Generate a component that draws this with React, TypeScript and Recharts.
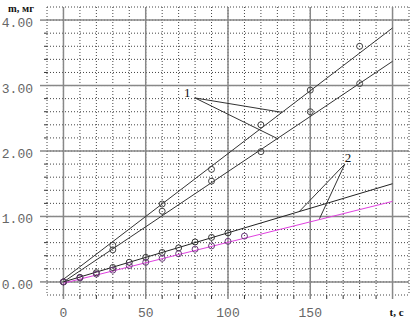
import React from 'react';
import {
  ComposedChart, Line, Scatter, XAxis, YAxis, CartesianGrid, ReferenceLine, ReferenceDot,
} from 'recharts';

// ---- data ----
const line1aPoints = [
  { t: 30, m: 0.56 }, { t: 60, m: 1.19 }, { t: 90, m: 1.72 },
  { t: 120, m: 2.4 }, { t: 150, m: 2.93 }, { t: 180, m: 3.6 },
];
const line1bPoints = [
  { t: 0, m: 0.0 }, { t: 30, m: 0.49 }, { t: 60, m: 1.08 }, { t: 90, m: 1.54 },
  { t: 120, m: 1.99 }, { t: 150, m: 2.6 }, { t: 180, m: 3.03 },
];
const line2Points = [
  { t: 0, m: 0 }, { t: 10, m: 0.07 }, { t: 20, m: 0.14 }, { t: 30, m: 0.22 },
  { t: 40, m: 0.3 }, { t: 50, m: 0.375 }, { t: 60, m: 0.45 }, { t: 70, m: 0.52 },
  { t: 80, m: 0.61 }, { t: 90, m: 0.68 }, { t: 100, m: 0.75 },
];
const line2mPoints = [
  { t: 0, m: 0 }, { t: 10, m: 0.06 }, { t: 20, m: 0.12 }, { t: 30, m: 0.18 },
  { t: 40, m: 0.25 }, { t: 50, m: 0.3 }, { t: 60, m: 0.36 }, { t: 70, m: 0.43 },
  { t: 80, m: 0.5 }, { t: 90, m: 0.55 }, { t: 100, m: 0.62 }, { t: 110, m: 0.7 },
];
const fit1a = [{ t: 0, m: 0.04 }, { t: 200, m: 3.88 }];
const fit1b = [{ t: 0, m: 0.0 }, { t: 200, m: 3.37 }];
const fit2 = [{ t: 0, m: 0.0 }, { t: 200, m: 1.5 }];
const fit2m = [{ t: 0, m: -0.02 }, { t: 200, m: 1.23 }];

const xTicks = [-10, 0, 10, 20, 30, 40, 50, 60, 70, 80, 90, 100, 110, 120, 130, 140, 150, 160, 170, 180, 190, 200, 210];
const yTicks = [-0.2, 0, 0.2, 0.4, 0.6, 0.8, 1, 1.2, 1.4, 1.6, 1.8, 2, 2.2, 2.4, 2.6, 2.8, 3, 3.2, 3.4, 3.6, 3.8, 4, 4.2];
const xMajor = [0, 50, 100, 150, 200];
const yMajor = [0, 1, 2, 3, 4];
const xLabels: Record<number, string> = { 0: '0', 50: '50', 100: '100', 150: '150', 200: 't, c' };
const yLabels: Record<number, string> = { 0: '0.00', 1: '1.00', 2: '2.00', 3: '3.00', 4: '4.00' };

const tickFont = '"Liberation Mono", monospace';
const serif = '"Liberation Serif", "DejaVu Serif", serif';

const isMajor = (v: number, arr: number[]) => arr.some((a) => Math.abs(a - v) < 1e-6);

const YTick = (props: any) => {
  const { x, y, payload } = props;
  const v = payload.value;
  const major = isMajor(v, yMajor);
  const edge = v < -0.1 || v > 4.1;
  return (
    <g>
      {!edge && (
        <line x1={x - (major ? 7 : 3)} x2={x} y1={y} y2={y} stroke={major ? '#888' : '#333'} strokeWidth={major ? 1.5 : 1} />
      )}
      {major && (
        <text x={33} y={y} dy={7} textAnchor="end" fontFamily={tickFont} fontSize={13} fill="#666">
          {yLabels[Math.round(v)]}
        </text>
      )}
    </g>
  );
};

const XTick = (props: any) => {
  const { x, y, payload } = props;
  const v = payload.value;
  const major = isMajor(v, xMajor);
  const edge = v < -5 || v > 205;
  const lbl = xLabels[Math.round(v)];
  return (
    <g>
      {!edge && <line x1={x} x2={x} y1={y} y2={y + 4} stroke={major ? '#888' : '#333'} strokeWidth={major ? 1.5 : 1} />}
      {major && lbl && (
        v === 200 ? (
          <text x={x + 4} y={y + 21} textAnchor="middle" fontFamily={serif} fontWeight="bold" fontSize={11} fill="#111">{lbl}</text>
        ) : (
          <text x={x} y={y + 22} textAnchor="middle" fontFamily={tickFont} fontSize={13} fill="#666">{lbl}</text>
        )
      )}
    </g>
  );
};

const circle = (stroke: string) => (p: any) => (
  <circle cx={p.cx} cy={p.cy} r={3} fill="none" stroke={stroke} strokeWidth={1} />
);

export default function App() {
  return (
    <div style={{ position: 'absolute', left: 0, top: 0, background: '#fff' }}>
      <ComposedChart width={420} height={330} margin={{ top: 7, right: 11, left: 0, bottom: 0 }}>
        <CartesianGrid stroke="#444" strokeDasharray="1 2" />
        <XAxis
          type="number" dataKey="t" domain={[-10, 210]} ticks={xTicks} interval={0}
          axisLine={false} tickLine={false} tickSize={0} tickMargin={0} height={35} tick={<XTick />}
          allowDataOverflow
        />
        <YAxis
          type="number" dataKey="m" domain={[-0.2, 4.2]} ticks={yTicks} interval={0}
          axisLine={false} tickLine={false} tickSize={0} tickMargin={0} width={47} tick={<YTick />}
          allowDataOverflow
          label={{
            content: () => (
              <text x={8} y={12} fontFamily={serif} fontWeight="bold" fontSize={10.5} fill="#111">m, мг</text>
            ),
          }}
        />
        {yMajor.map((v) => (
          <ReferenceLine key={'y' + v} y={v} stroke="#888" strokeWidth={1.5} />
        ))}
        {xMajor.map((v) => (
          <ReferenceLine key={'x' + v} x={v} stroke="#888" strokeWidth={1.5} />
        ))}
        <Line data={fit1a} dataKey="m" stroke="#333" strokeWidth={1} dot={false} isAnimationActive={false} />
        <Line data={fit1b} dataKey="m" stroke="#333" strokeWidth={1} dot={false} isAnimationActive={false} />
        <Line data={fit2} dataKey="m" stroke="#222" strokeWidth={1} dot={false} isAnimationActive={false} />
        <Line data={fit2m} dataKey="m" stroke="#e040e0" strokeWidth={1} dot={false} isAnimationActive={false} />
        <Scatter data={line1aPoints} dataKey="m" shape={circle('#444')} isAnimationActive={false} />
        <Scatter data={line1bPoints} dataKey="m" shape={circle('#444')} isAnimationActive={false} />
        <Scatter data={line2Points} dataKey="m" shape={circle('#333')} isAnimationActive={false} />
        <Scatter data={line2mPoints} dataKey="m" shape={circle('#6a3a7a')} isAnimationActive={false} />
        <ReferenceLine segment={[{ x: 80, y: 2.81 }, { x: 133, y: 2.59 }]} stroke="#333" />
        <ReferenceLine segment={[{ x: 80, y: 2.81 }, { x: 130, y: 2.19 }]} stroke="#333" />
        <ReferenceLine segment={[{ x: 171, y: 1.8 }, { x: 143.5, y: 1.08 }]} stroke="#333" />
        <ReferenceLine segment={[{ x: 171, y: 1.8 }, { x: 155.6, y: 0.965 }]} stroke="#333" />
        <ReferenceDot x={75.3} y={2.89} r={0} fill="none" stroke="none"
          label={{ value: '1', position: 'center', fontFamily: serif, fontSize: 13, fill: '#111' }} />
        <ReferenceDot x={173} y={1.91} r={0} fill="none" stroke="none"
          label={{ value: '2', position: 'center', fontFamily: serif, fontSize: 13, fill: '#111' }} />
      </ComposedChart>
    </div>
  );
}
